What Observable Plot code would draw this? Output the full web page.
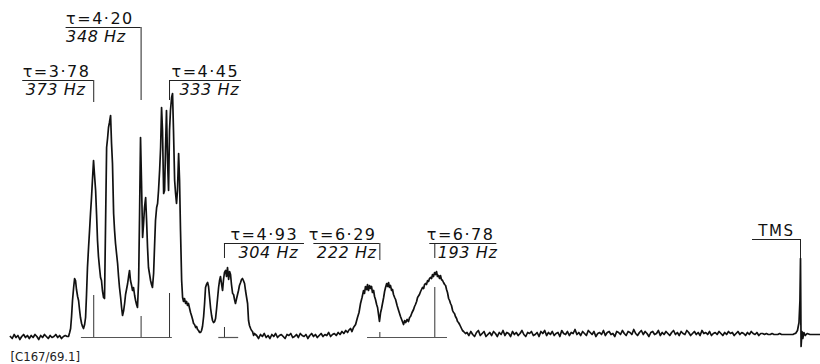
<!DOCTYPE html>
<html>
<head>
<meta charset="utf-8">
<script src="https://cdn.jsdelivr.net/npm/d3@7"></script>
<script src="https://cdn.jsdelivr.net/npm/@observablehq/plot@0.6"></script>
<style>
  body { margin: 0; background: #fff; }
  #chart svg { display: block; }
  .tau text { letter-spacing: 1.5px; }
  .hz text { letter-spacing: 0.6px; }
  .tms text { letter-spacing: 1.5px; }
</style>
</head>
<body>
<div id="chart"></div>
<script>
// 60 MHz proton spectrum; shifts in Hz downfield of TMS, tau scale on the labels
const tauValues = [3.78, 4.20, 4.45, 4.93, 6.29, 6.78];
const shiftHz = [373, 348, 333, 304, 222, 193];
const tmsHz = 0;

// stick (relative intensity) lines under the multiplets, same order as shiftHz
const stickHeights = [39, 18, 41, 7, 2, 47];
const stickSpans = [[379.5, 331.5], [307, 296.5], [228.5, 186.3]];

// baseline digitised every 1 Hz, starting at the given shift
const baselineLowStart = 417;
const baselineLow = [-2, -4, 0, -3, -1, -5, -2, 0, -3, -1,
  -4, -1, -3, 0, -2, -5, -1, -3, 0, -2,
  -4, -1, -3, -2, 0, -3, -1, -4, -2, -1, -2];

// 3.78 - 4.93 tau region, [Hz, intensity]
const multipletA = [
  [386.3, -2], [385.7, 2], [385.2, 6], [384.7, 18], [384.2, 34], [383.6, 47], [383.1, 56], [382.6, 54],
  [382.1, 45], [381.5, 38], [381.0, 34], [380.5, 25], [380.0, 17], [379.4, 11], [378.9, 8], [378.4, 6],
  [377.8, 10], [377.3, 17], [376.8, 40], [376.3, 67], [375.7, 88], [375.2, 104], [374.7, 121], [374.2, 136],
  [373.6, 157], [373.1, 174], [372.6, 160], [372.0, 144], [371.5, 120], [371.0, 94], [370.5, 78], [369.9, 66],
  [369.4, 57], [368.9, 54], [368.4, 44], [367.8, 37], [367.3, 36], [366.8, 104], [366.2, 187], [365.7, 196],
  [365.2, 207], [364.7, 212], [364.1, 219], [363.6, 191], [363.1, 171], [362.5, 121], [362.0, 104], [361.5, 91],
  [360.9, 80], [360.4, 71], [359.9, 58], [359.4, 47], [358.8, 37], [358.3, 27], [357.8, 19], [357.2, 24],
  [356.7, 31], [356.2, 40], [355.6, 46], [355.1, 51], [354.6, 58], [354.1, 64], [353.6, 54], [353.0, 49],
  [352.5, 44], [352.0, 47], [351.4, 39], [350.9, 34], [350.4, 30], [349.9, 27], [349.3, 54], [348.8, 121],
  [348.3, 197], [347.8, 154], [347.2, 97], [346.7, 111], [346.2, 127], [345.6, 137], [345.1, 114], [344.6, 87],
  [344.1, 67], [343.5, 60], [343.0, 54], [342.5, 50], [342.0, 47], [341.4, 61], [340.9, 88], [340.4, 114],
  [339.8, 127], [339.3, 131], [338.8, 144], [338.2, 165], [337.7, 187], [337.2, 227], [336.7, 204], [336.1, 141],
  [335.6, 144], [335.1, 187], [334.6, 224], [334.0, 171], [333.5, 144], [333.0, 204], [332.5, 224], [331.9, 237],
  [331.4, 241], [330.9, 204], [330.3, 154], [329.8, 141], [329.3, 131], [328.8, 144], [328.2, 181], [327.7, 154],
  [327.2, 104], [326.6, 54], [326.1, 37], [325.6, 33], [325.1, 36], [324.5, 31], [324.0, 33], [323.5, 29],
  [323.0, 31], [322.4, 26], [321.9, 22], [321.4, 19], [320.8, 15], [320.3, 11], [319.8, 10], [319.2, 7],
  [318.7, 8], [318.2, 5], [317.7, 4], [317.1, 2], [316.6, 2], [316.1, 4], [315.6, 8], [315.0, 18],
  [314.5, 31], [314.0, 47], [313.5, 50], [312.9, 52], [312.4, 48], [311.9, 38], [311.3, 26], [310.8, 19],
  [310.3, 14], [309.8, 12], [309.2, 13], [308.7, 16], [308.2, 25], [307.6, 37], [307.1, 47], [306.6, 54],
  [306.1, 58], [305.5, 50], [305.0, 44], [304.5, 55], [304.0, 62], [303.4, 64], [302.9, 58], [302.4, 67],
  [301.8, 55], [301.3, 63], [300.8, 60], [300.3, 50], [299.7, 41], [299.2, 40], [298.7, 35], [298.2, 31],
  [297.6, 36], [297.1, 40], [296.6, 44], [296.1, 49], [295.5, 52], [295.0, 55], [294.5, 56], [294.0, 54],
  [293.4, 51], [292.9, 44], [292.4, 38], [291.8, 31], [291.3, 14], [290.8, 9], [290.2, 6], [289.7, 4],
  [289.2, 3], [288.6, -1], [288.1, 1], [287.6, 0]
];

const baselineMidStart = 287;
const baselineMid = [-1, -4, 0, -2, 1, -3, -1, -4, 0, -2,
  1, -3, -1, 0, -2, -4, 0, -1, 1, -3,
  -2, 0, -3, 1, -1, -2, 0, -4, -1, 1,
  -2, 0, -3, -1, 1, -2, 0, -1, 2, -2,
  0, 1, -1, 2, 0, 3, 1, 4, 2];

// 6.29 - 6.78 tau region, [Hz, intensity]
const multipletB = [
  [238.5, 4], [237.5, 6], [236.7, 3], [235.9, 7], [234.8, 10], [233.8, 17], [233.0, 22], [232.2, 31],
  [231.4, 37], [230.6, 44], [230.1, 41], [229.6, 48], [229.0, 45], [228.5, 50], [228.0, 44], [227.4, 49],
  [226.9, 46], [226.4, 48], [225.9, 42], [225.3, 44], [224.8, 38], [224.3, 35], [223.7, 30], [223.2, 27],
  [222.7, 20], [222.2, 13], [221.6, 22], [221.1, 26], [220.6, 31], [220.0, 37], [219.5, 43], [219.0, 47],
  [218.4, 51], [217.9, 48], [217.4, 52], [216.9, 47], [216.4, 49], [215.8, 44], [215.3, 45], [214.8, 40],
  [214.2, 37], [213.7, 35], [212.9, 29], [212.1, 24], [211.6, 21], [211.1, 18], [210.3, 14], [209.5, 10],
  [208.9, 14], [208.4, 12], [207.6, 15], [206.9, 13], [206.3, 17], [205.8, 18], [205.0, 22], [204.2, 25],
  [203.7, 28], [203.2, 30], [202.6, 33], [202.1, 37], [201.1, 40], [200.5, 43], [200.0, 45], [199.5, 47],
  [198.9, 46], [198.4, 50], [197.9, 51], [197.4, 50], [196.8, 54], [196.3, 53], [195.8, 56], [195.3, 57],
  [194.7, 56], [194.2, 60], [193.7, 58], [193.1, 62], [192.6, 60], [192.1, 63], [191.6, 58], [191.0, 59],
  [190.5, 56], [190.0, 59], [189.5, 55], [188.9, 54], [188.4, 52], [187.8, 50], [187.3, 49], [186.8, 45],
  [186.3, 42], [185.7, 36], [185.2, 34], [184.7, 31], [184.2, 29], [183.6, 24], [183.1, 22], [182.6, 21],
  [182.1, 18], [181.5, 16], [181.0, 13], [180.5, 12], [179.9, 10], [179.4, 8], [178.9, 6], [178.4, 4],
  [177.8, 3], [177.3, 2], [176.8, 1]
];

const baselineHighStart = 176;
const baselineHigh = [
  2, -1, 3, 0, -2, 2, 4, -1, 1, 3, -2, 0, 2, -1, 3, 1, -2, 2, 0, 4,
  -1, 2, 1, -2, 3, 0, 2, -1, 1, 4, 0, -2, 2, 1, 3, -1, 0, 2, -2, 3,
  1, 4, -1, 2, 0, 3, -1, 1, 2, -2, 4, 1, 0, 3, -1, 2, 1, 5, 0, 2,
  -1, 3, 1, -1, 4, 2, 0, 3, -2, 1, 2, 0, 4, -1, 2, 3, 0, 1, -2, 3,
  2, 0, 4, 1, -1, 3, 2, 0, 5, 1, -1, 2, 4, 0, 3, 1, -2, 2, 3, 0,
  1, 4, -1, 2, 0, 3, 1, -1, 2, 4, 0, 2, -1, 3, 1, 0, 4, 2, -1, 1,
  3, 0, 2, -1, 4, 1, 2, 0, 3, -1, 1, 2, 0, 3, 1, -1, 2, 0, 3, 1,
  2, -1, 1, 3, 0, 2, 1, -1, 2, 0, 3, 1, 0, 2, -1, 1];

const baselineQuietStart = 20;
const baselineQuiet = [1, 0, 1, 0, 0, 1, 0, 0, 0, 1, 0, 0, 0, 0, 0, 0, 0, 1];

// reference signal and ringing, [Hz, intensity]
const tmsPeak = [
  [2.6, 1], [1.6, 4], [0.8, 12], [0.3, 34], [0.0, 76], [-0.3, -12], [-0.8, 3],
  [-1.2, -4], [-1.8, 2], [-2.5, -1], [-3.5, 1], [-5, 0], [-7, 0], [-10.5, 0]
];

// ---- layout ----
const W = 820, H = 364;
const xDomain = [422.2, -10.55];
const yDomain = [-30, 334];
const xs = Plot.scale({x: {domain: xDomain, range: [0, W]}});
const ys = Plot.scale({y: {domain: yDomain, range: [H, 0]}});
const hzAt = (px) => xs.invert(px);
const iAt = (py) => ys.invert(py);
const stickBase = -3;

// bracket row, side of the text, bracket length, foot of the marker (pixels)
const labelLayout = [
  {row: 80, side: "left", width: 71, foot: 102, tauDx: 0, hzDx: 3, over: 0},
  {row: 27, side: "left", width: 75, foot: 100, tauDx: 0, hzDx: 0, over: 0},
  {row: 80, side: "right", width: 72, foot: 100, tauDx: 2, hzDx: 10, over: 0},
  {row: 243, side: "right", width: 80, foot: 258, tauDx: 6, hzDx: 14, over: 0},
  {row: 243, side: "left", width: 66, foot: 260, tauDx: -5, hzDx: 3, over: 0},
  {row: 243, side: "right", width: 62, foot: 258, tauDx: -3, hzDx: 8, over: 5}
];

const labels = tauValues.map((tau, k) => {
  const L = labelLayout[k];
  const mx = xs.apply(shiftHz[k]);
  const left = L.side === "left" ? mx - L.width : mx - L.over;
  const right = L.side === "left" ? mx : mx + L.width;
  return {tau, hz: shiftHz[k], left, right, ...L};
});

const sampled = (start, values) => values.map((v, j) => ({hz: start - j, i: v}));
const pairs = (arr) => arr.map(([hz, v]) => ({hz, i: v}));
const trace = [
  ...sampled(baselineLowStart, baselineLow),
  ...pairs(multipletA),
  ...sampled(baselineMidStart, baselineMid),
  ...pairs(multipletB),
  ...sampled(baselineHighStart, baselineHigh),
  ...sampled(baselineQuietStart, baselineQuiet),
  ...pairs(tmsPeak)
];

const sticks = shiftHz.map((hz, k) => ({hz, top: stickHeights[k]}));
const spans = stickSpans.map(([a, b]) => ({a, b}));
const fmtTau = (t) => "\u03C4=" + t.toFixed(2).replace(".", "\u00B7");

const tmsRow = 239;
const tmsWidth = 48;
const tms = [{hz: tmsHz}];

const chart = Plot.plot({
  width: W,
  height: H,
  margin: 0,
  x: {domain: xDomain, axis: null},
  y: {domain: yDomain, axis: null},
  style: {fontFamily: "DejaVu Sans, sans-serif", background: "#fff", color: "#111"},
  marks: [
    // stick lines
    Plot.ruleY(spans, {y: stickBase, x1: "a", x2: "b", stroke: "#555", strokeWidth: 1.2}),
    Plot.ruleX(sticks, {x: "hz", y1: stickBase, y2: "top", stroke: "#333", strokeWidth: 1}),
    // shift markers with their brackets
    Plot.ruleX(labels, {x: "hz", y1: (d) => iAt(d.row), y2: (d) => iAt(d.foot), stroke: "#222", strokeWidth: 1}),
    Plot.ruleY(labels, {y: (d) => iAt(d.row), x1: (d) => hzAt(d.left), x2: (d) => hzAt(d.right), stroke: "#222", strokeWidth: 1}),
    Plot.text(labels, {
      x: (d) => hzAt(d.left + d.tauDx), y: (d) => iAt(d.row - 15),
      text: (d) => fmtTau(d.tau), textAnchor: "start", lineAnchor: "top",
      fontSize: 16, fill: "#111", className: "tau"
    }),
    Plot.text(labels, {
      x: (d) => hzAt(d.left + d.hzDx), y: (d) => iAt(d.row + 3),
      text: (d) => `${d.hz} Hz`, textAnchor: "start", lineAnchor: "top",
      fontSize: 16, fontStyle: "italic", fill: "#111", className: "hz"
    }),
    // TMS reference
    Plot.ruleX(tms, {x: "hz", y1: iAt(tmsRow), y2: iAt(325), stroke: "#222", strokeWidth: 1}),
    Plot.ruleY(tms, {y: iAt(tmsRow), x1: (d) => hzAt(xs.apply(d.hz) - tmsWidth), x2: "hz", stroke: "#222", strokeWidth: 1}),
    Plot.text(tms, {
      x: (d) => hzAt(xs.apply(d.hz) - 6), y: iAt(tmsRow - 14), text: ["TMS"],
      textAnchor: "end", lineAnchor: "top", fontSize: 15, fill: "#111", className: "tms"
    }),
    // spectrum trace
    Plot.line(trace, {x: "hz", y: "i", stroke: "#111", strokeWidth: 1.7, strokeLinejoin: "round"}),
    // figure reference
    Plot.text(["[C167/69.1]"], {
      frameAnchor: "top-left", dx: 10, dy: 351, textAnchor: "start", lineAnchor: "top",
      fontSize: 13, fill: "#222", fontFamily: "Liberation Sans Narrow, DejaVu Sans Condensed, Liberation Sans, sans-serif"
    })
  ]
});

document.getElementById("chart").append(chart);
</script>
</body>
</html>
